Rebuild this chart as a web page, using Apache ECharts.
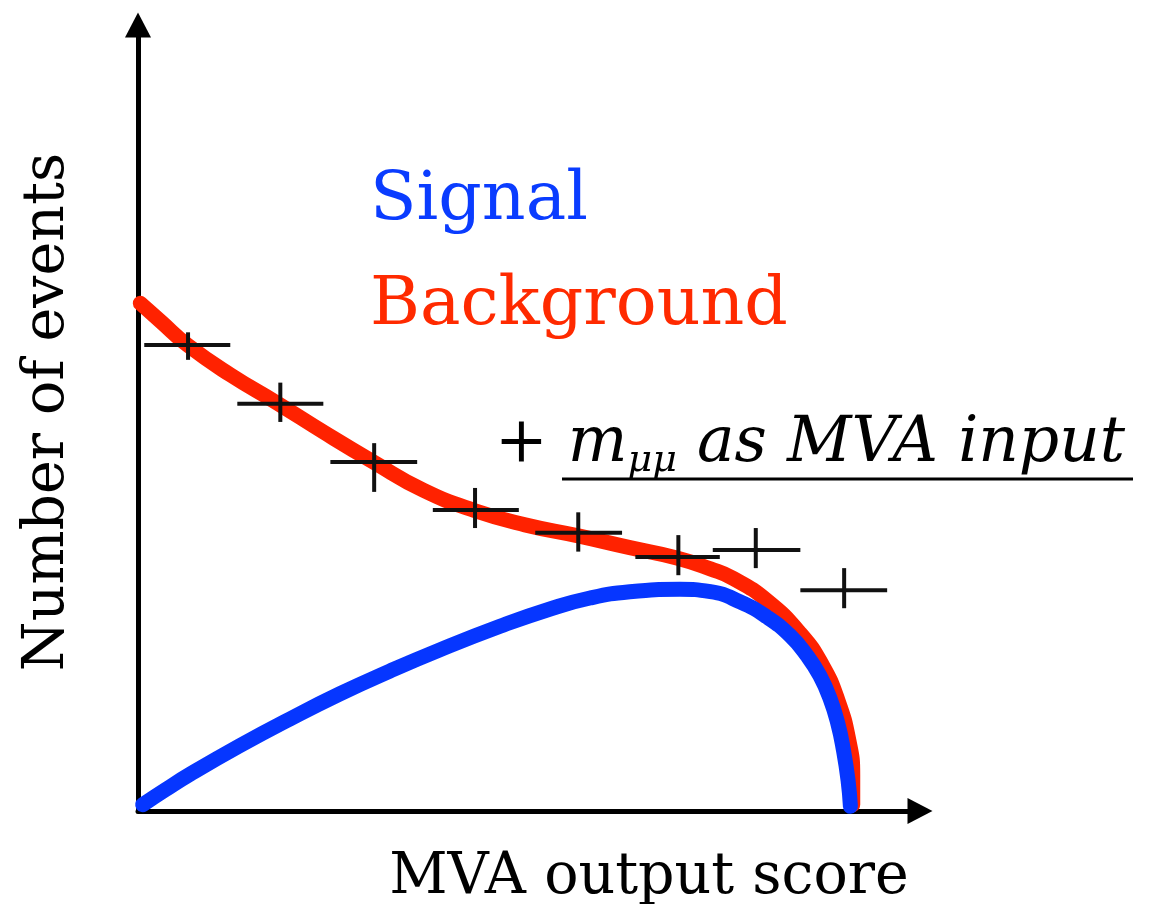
<!DOCTYPE html>
<html>
<head>
<meta charset="utf-8">
<script src="https://cdn.jsdelivr.net/npm/echarts@6/dist/echarts.min.js"></script>
<style>
  html, body { margin: 0; padding: 0; background: #fff; }
  #chart { width: 1154px; height: 904px; }
</style>
</head>
<body>
<div id="chart"></div>
<script>
// background shape (red), arbitrary units 0..100
const bkgX = [0.3, 3.0, 6.3, 11.8, 17.8, 23.9, 30.1, 36.5, 43.1, 49.5, 56.3, 62.9, 68.9, 73.2, 76.1, 80.4, 84.7, 87.5, 89.5, 90.9, 91.4, 91.4];
const bkgY = [64.6, 62.2, 59.3, 55.5, 51.9, 48.1, 44.4, 40.8, 38.2, 36.4, 35.0, 33.5, 32.2, 30.8, 29.6, 26.8, 22.6, 18.6, 14.1, 9.0, 4.6, 0.8];

// signal shape (blue)
const sigX = [0.6, 3.5, 6.7, 13.0, 19.4, 25.8, 32.2, 38.6, 46.3, 52.7, 57.8, 62.9, 69.3, 73.2, 77.0, 80.4, 83.4, 85.6, 87.2, 88.5, 89.5, 90.2, 90.8, 91.1];
const sigY = [0.8, 2.7, 4.7, 8.3, 11.7, 14.9, 17.8, 20.5, 23.5, 25.7, 27.1, 27.9, 28.2, 27.9, 26.6, 24.7, 22.3, 19.7, 17.2, 14.3, 11.1, 7.8, 3.9, 0.6];

// pseudo-data points: centre, bin edges, error bar ends
const dataX = [6.4, 18.2, 30.2, 43.1, 56.3, 69.1, 79.0, 90.3];
const dataY = [59.3, 51.8, 44.4, 38.3, 35.4, 32.3, 33.2, 28.1];
const binLo = [0.8, 12.7, 24.6, 37.7, 50.8, 63.6, 73.5, 84.7];
const binHi = [11.8, 23.7, 35.7, 48.7, 61.9, 74.4, 84.7, 95.8];
const errLo = [57.4, 49.5, 40.6, 36.0, 33.0, 30.0, 30.9, 25.8];
const errHi = [60.9, 54.5, 46.8, 41.1, 38.0, 35.1, 36.0, 30.9];

const textFont = '"DejaVu Serif", "Liberation Serif", serif';
const redText = '#ff2a00';
const blueText = '#0a3cff';

const chart = echarts.init(document.getElementById('chart'));

const axisBase = {
  type: 'value',
  min: 0,
  max: 100,
  axisLine: {
    show: true,
    symbol: ['none', 'triangle'],
    symbolSize: [26, 25],
    lineStyle: { color: '#000', width: 5 },
  },
  axisTick: { show: false },
  axisLabel: { show: false },
  splitLine: { show: false },
};

chart.setOption({
  backgroundColor: '#fff',
  animation: false,
  grid: { left: 138, top: 25, right: 234, bottom: 93 },
  xAxis: { ...axisBase },
  yAxis: { ...axisBase },
  series: [
    {
      name: 'Background',
      type: 'line',
      smooth: 0.5,
      showSymbol: false,
      data: bkgX.map((x, i) => [x, bkgY[i]]),
      lineStyle: { color: '#ff2200', width: 15, cap: 'round', join: 'round' },
      z: 2,
    },
    {
      name: 'Signal',
      type: 'line',
      smooth: 0.5,
      showSymbol: false,
      data: sigX.map((x, i) => [x, sigY[i]]),
      lineStyle: { color: '#0636ff', width: 15, cap: 'round', join: 'round' },
      z: 3,
    },
    {
      name: 'Data',
      type: 'custom',
      z: 4,
      data: dataX.map((x, i) => [x, dataY[i], binLo[i], binHi[i], errLo[i], errHi[i]]),
      renderItem: (params, api) => {
        const l = api.coord([api.value(2), api.value(1)]);
        const r = api.coord([api.value(3), api.value(1)]);
        const b = api.coord([api.value(0), api.value(4)]);
        const t = api.coord([api.value(0), api.value(5)]);
        const st = { stroke: '#111', lineWidth: 4 };
        return {
          type: 'group',
          children: [
            { type: 'line', shape: { x1: l[0], y1: l[1], x2: r[0], y2: r[1] }, style: st },
            { type: 'line', shape: { x1: b[0], y1: b[1], x2: t[0], y2: t[1] }, style: st },
          ],
        };
      },
    },
  ],
  graphic: [
    {
      type: 'text', x: 370, y: 201,
      style: { text: 'Signal', fill: blueText, font: '68px ' + textFont, verticalAlign: 'middle' },
    },
    {
      type: 'text', x: 370, y: 306,
      style: { text: 'Background', fill: redText, font: '68px ' + textFont, verticalAlign: 'middle' },
    },
    {
      type: 'text', x: 495, y: 445,
      style: {
        text: '{p|+ }{m|m}{s|μμ}{m| as MVA input}',
        verticalAlign: 'middle',
        rich: {
          p: { fontFamily: textFont, fontSize: 63, fill: '#000', lineHeight: 70 },
          m: { fontFamily: textFont, fontStyle: 'italic', fontSize: 63, fill: '#000', lineHeight: 70 },
          s: { fontFamily: textFont, fontStyle: 'italic', fontSize: 38, fill: '#000', lineHeight: 38, verticalAlign: 'bottom' },
        },
      },
    },
    {
      type: 'line',
      shape: { x1: 562, y1: 479, x2: 1133, y2: 479 },
      style: { stroke: '#000', lineWidth: 3 },
    },
    {
      type: 'text', x: 649, y: 878,
      style: { text: 'MVA output score', fill: '#000', font: '57px ' + textFont, align: 'center', verticalAlign: 'middle' },
    },
    {
      type: 'text', x: 48, y: 412, rotation: Math.PI / 2,
      style: { text: 'Number of events', fill: '#000', font: '57px ' + textFont, align: 'center', verticalAlign: 'middle' },
    },
  ],
});
</script>
</body>
</html>
